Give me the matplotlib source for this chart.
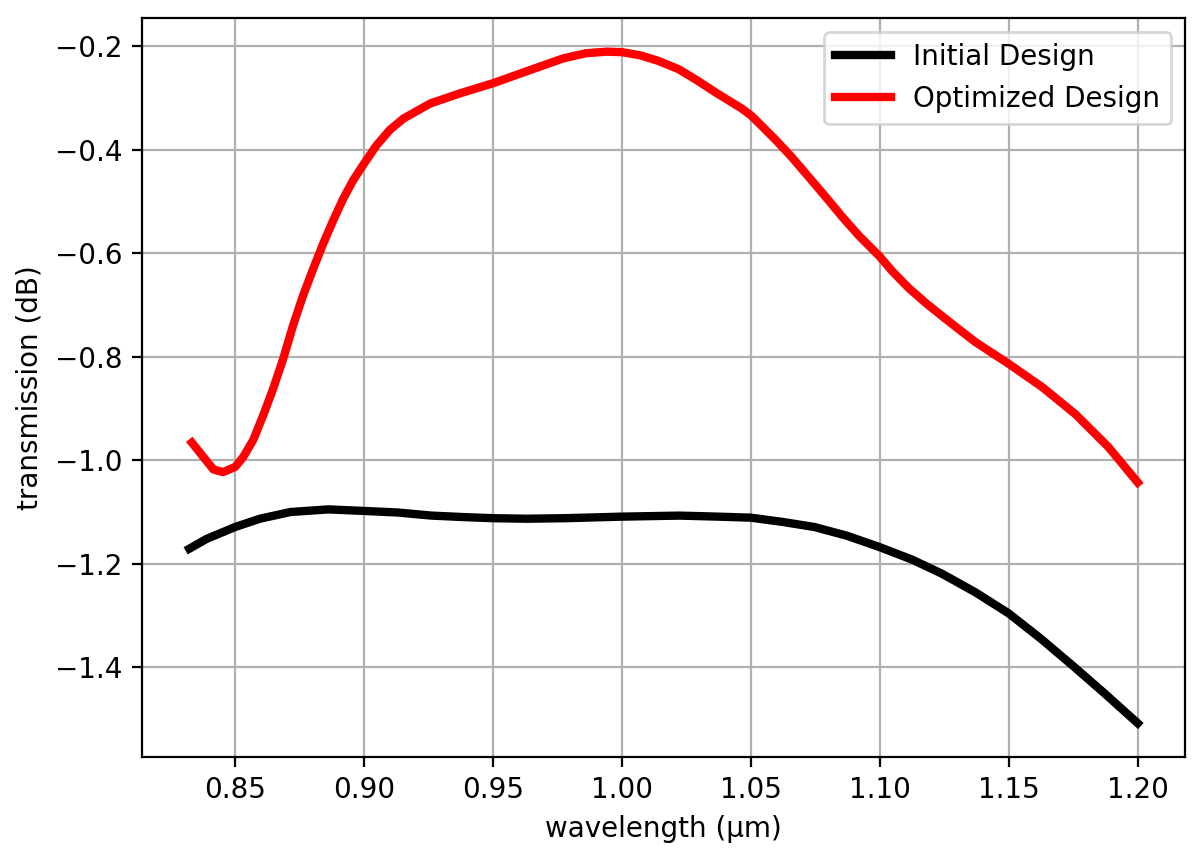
import matplotlib
matplotlib.use("Agg")
import matplotlib.pyplot as plt

# Initial design (black)
wl_init = [0.8322, 0.8389, 0.8500, 0.8596, 0.8715, 0.8862, 0.9000, 0.9130, 0.9262,
           0.9393, 0.9500, 0.9630, 0.9780, 1.0000, 1.0223, 1.0371, 1.0500, 1.0620,
           1.0746, 1.0873, 1.1000, 1.1125, 1.1240, 1.1370, 1.1500, 1.1625, 1.1753,
           1.1875, 1.2000]
t_init = [-1.171, -1.152, -1.129, -1.113, -1.100, -1.095, -1.098, -1.101, -1.107,
          -1.110, -1.112, -1.113, -1.112, -1.109, -1.107, -1.109, -1.111, -1.119,
          -1.129, -1.146, -1.168, -1.192, -1.219, -1.255, -1.296, -1.345, -1.399,
          -1.452, -1.508]

# Optimized design (red)
wl_opt = [0.8332, 0.8377, 0.8416, 0.8453, 0.8500, 0.8531, 0.8570, 0.8609, 0.8648,
          0.8687, 0.8725, 0.8764, 0.8803, 0.8842, 0.8881, 0.8919, 0.8958, 0.9000,
          0.9048, 0.9100, 0.9153, 0.9257, 0.9375, 0.9500, 0.9624, 0.9772, 0.9860,
          0.9942, 1.0000, 1.0070, 1.0142, 1.0220, 1.0290, 1.0370, 1.0465, 1.0500,
          1.0543, 1.0595, 1.0659, 1.0724, 1.0789, 1.0854, 1.0918, 1.1000, 1.1048,
          1.1113, 1.1177, 1.1242, 1.1306, 1.1371, 1.1500, 1.1630, 1.1758, 1.1887,
          1.2000]
t_opt = [-0.966, -0.994, -1.018, -1.023, -1.013, -0.994, -0.961, -0.913, -0.861,
         -0.803, -0.739, -0.681, -0.630, -0.581, -0.536, -0.495, -0.459, -0.427,
         -0.392, -0.362, -0.340, -0.311, -0.291, -0.272, -0.250, -0.224, -0.214,
         -0.211, -0.212, -0.218, -0.229, -0.245, -0.266, -0.292, -0.321, -0.334,
         -0.355, -0.381, -0.415, -0.453, -0.491, -0.530, -0.566, -0.607, -0.635,
         -0.668, -0.696, -0.722, -0.747, -0.772, -0.814, -0.859, -0.911, -0.975,
         -1.043]

fig = plt.figure(figsize=(6.01, 4.305), dpi=200)
ax = fig.add_axes([0.118, 0.121, 0.868, 0.858])
ax.plot(wl_init, t_init, color="black", lw=3, label="Initial Design")
ax.plot(wl_opt, t_opt, color="red", lw=3, label="Optimized Design")
ax.set_xlabel("wavelength (μm)")
ax.set_ylabel("transmission (dB)")
ax.grid(True)
ax.legend(loc="upper right")
fig.savefig("out.png", dpi=200)
